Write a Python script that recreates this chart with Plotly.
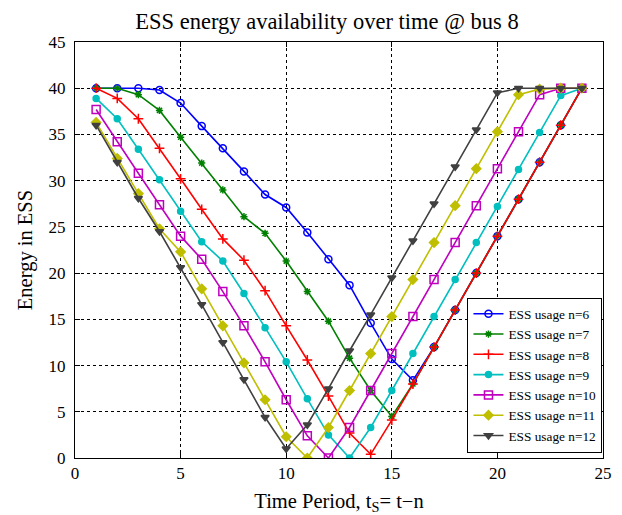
import plotly.graph_objects as go

t = list(range(1, 25))

n6 = [40, 40, 40, 39.8, 38.4, 35.9, 33.5, 31.0, 28.5, 27.1, 24.4, 21.5, 18.7, 14.6, 10.7, 8.4,
      12, 16, 20, 24, 28, 32, 36, 40]
n7 = [40, 40, 39.3, 37.6, 34.7, 31.9, 29.0, 26.1, 24.3, 21.3, 18.0, 14.8, 10.8, 7.3, 4.5, 8,
      12, 16, 20, 24, 28, 32, 36, 40]
n8 = [40, 38.9, 36.7, 33.5, 30.2, 26.9, 23.7, 21.4, 18.1, 14.3, 10.6, 6.7, 2.7, 0.4, 4.1, 8,
      12, 16, 20, 24, 28, 32, 36, 40]
n9 = [38.9, 36.7, 33.4, 30.1, 26.7, 23.4, 21.3, 17.8, 14.1, 10.4, 6.4, 2.5, 0, 3.3, 7.3, 11.3,
      15.3, 19.3, 23.3, 27.2, 31.2, 35.2, 39.2, 40]
n10 = [37.7, 34.2, 30.8, 27.4, 24.0, 21.5, 18.0, 14.3, 10.4, 6.3, 2.4, 0, 3.3, 7.3, 11.3, 15.3,
       19.3, 23.3, 27.3, 31.3, 35.3, 39.3, 40, 40]
n11 = [36.3, 32.4, 28.6, 24.8, 22.3, 18.3, 14.3, 10.3, 6.3, 2.3, 0, 3.3, 7.3, 11.3, 15.3, 19.3,
       23.3, 27.3, 31.3, 35.3, 39.3, 39.9, 40, 40]
n12 = [36.0, 32.0, 28.1, 24.5, 20.6, 16.6, 12.5, 8.5, 4.4, 1.0, 3.6, 7.5, 11.6, 15.5, 19.5, 23.5,
       27.5, 31.5, 35.5, 39.5, 40, 40, 40, 40]

names = ["ESS usage n=6", "ESS usage n=7", "ESS usage n=8", "ESS usage n=9",
         "ESS usage n=10", "ESS usage n=11", "ESS usage n=12"]
series = [n6, n7, n8, n9, n10, n11, n12]
colors = ["#0000FF", "#008000", "#FF0000", "#00BFBF", "#BF00BF", "#BFBF00", "#404040"]
symbols = ["circle-open", "asterisk-open", "cross-thin-open", "circle", "square-open",
           "diamond", "triangle-down"]
sizes = [7, 6, 7, 6, 8, 7, 7]

FONT = "Liberation Serif"

# the page body has an 8px default margin, so the figure is drawn 8px smaller
W, H = 614, 507

fig = go.Figure()
for nm, y, c, s, sz in zip(names, series, colors, symbols, sizes):
    fig.add_trace(go.Scatter(
        x=t, y=y, name=nm, mode="lines+markers",
        line=dict(color=c, width=1.6),
        marker=dict(symbol=s, size=sz, color=c, line=dict(color=c, width=1.5)),
    ))

axis_common = dict(
    showline=True, linecolor="black", linewidth=1, mirror="ticks",
    ticks="inside", ticklen=5, tickcolor="black", automargin=False,
    showgrid=True, gridcolor="black", gridwidth=1, griddash="3px,3px",
    zeroline=False, tickfont=dict(family=FONT, size=17, color="black"),
)

fig.update_layout(
    width=W, height=H,
    paper_bgcolor="white", plot_bgcolor="white",
    margin=dict(l=67, r=19, t=34, b=57, autoexpand=False),
    title=dict(text="ESS energy availability over time @ bus 8",
               x=319 / W, xanchor="center", y=1 - 13 / H, yanchor="middle",
               font=dict(family=FONT, size=22.5, color="black")),
    xaxis=dict(range=[0, 25], tickvals=[0, 5, 10, 15, 20, 25], **axis_common,
               title=dict(text="Time Period, t<sub>S</sub>= t\u2212n", standoff=12,
                          font=dict(family=FONT, size=20.5, color="black"))),
    yaxis=dict(range=[0, 45], tickvals=list(range(0, 46, 5)), ticklabelstandoff=5,
               **axis_common,
               title=dict(text="Energy in ESS", standoff=10,
                          font=dict(family=FONT, size=20.5, color="black"))),
    legend=dict(x=0.999, y=0.013, xanchor="right", yanchor="bottom",
                bgcolor="white", bordercolor="black", borderwidth=1,
                font=dict(family=FONT, size=13.3, color="black"),
                tracegroupgap=0, itemwidth=30),
    showlegend=True,
)

fig.write_html("out.html")
